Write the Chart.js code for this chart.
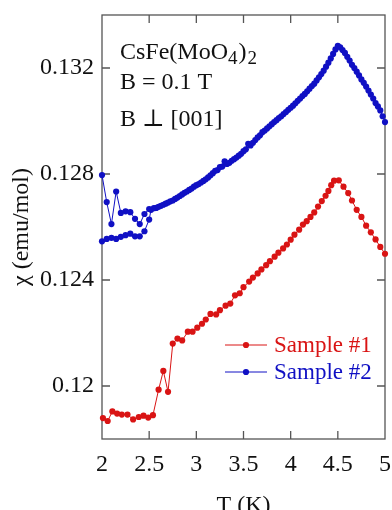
<!DOCTYPE html>
<html><head><meta charset="utf-8">
<script src="https://cdn.jsdelivr.net/npm/chart.js@4.4.0/dist/chart.umd.min.js"></script>
<style>html,body{margin:0;padding:0;background:#fff;}#wrap{width:392px;height:510px;position:relative;}</style>
</head><body><div id="wrap"><canvas id="c" width="392" height="510"></canvas></div>
<script>
const seriesLabels = ['Sample #1', 'Sample #2'];
const seriesColors = ['#d91414', '#1010c4'];

const sample1T = [2.01,2.06,2.11,2.16,2.21,2.27,2.33,2.39,2.44,2.49,2.54,2.60,2.65,2.70,2.75,2.80,2.85,2.91,2.96,3.01,3.06,3.10,3.15,3.21,3.25,3.31,3.36,3.41,3.46,3.50,3.56,3.60,3.65,3.69,3.74,3.78,3.83,3.87,3.92,3.96,4.00,4.04,4.09,4.13,4.17,4.21,4.25,4.29,4.33,4.37,4.40,4.43,4.46,4.51,4.56,4.61,4.65,4.70,4.75,4.80,4.85,4.90,4.95,5.00];
const sample1Chi = [0.11879,0.11868,0.11904,0.11896,0.11892,0.11892,0.11874,0.11883,0.11888,0.11881,0.11890,0.11986,0.12057,0.11978,0.12160,0.12179,0.12172,0.12205,0.12205,0.12220,0.12235,0.12251,0.12272,0.12270,0.12286,0.12303,0.12311,0.12342,0.12350,0.12373,0.12394,0.12409,0.12425,0.12440,0.12456,0.12471,0.12488,0.12503,0.12519,0.12534,0.12552,0.12571,0.12590,0.12609,0.12622,0.12638,0.12655,0.12677,0.12698,0.12718,0.12736,0.12758,0.12775,0.12776,0.12752,0.12728,0.12700,0.12665,0.12638,0.12605,0.12580,0.12553,0.12525,0.12499];

const sample2aT = [2.00,2.05,2.10,2.15,2.20,2.25,2.30,2.35,2.40,2.45,2.50,2.55,2.60,2.65,2.70,2.75,2.80,2.85,2.90,2.95,3.00,3.05,3.10,3.15,3.20,3.25,3.30,3.35,3.40,3.45,3.50,3.55,3.60,3.65,3.70,3.75,3.80,3.85,3.90,3.95,4.00,4.05,4.10,4.15,4.20,4.25,4.30,4.35,4.40,4.45,4.50,4.55,4.60,4.65,4.70,4.75,4.80,4.85,4.90,4.95,5.00];
const sample2aChi = [0.12796,0.12694,0.12611,0.12734,0.12653,0.12659,0.12656,0.12631,0.12611,0.12649,0.12668,0.12671,0.12676,0.12684,0.12692,0.12700,0.12711,0.12723,0.12734,0.12745,0.12758,0.12768,0.12780,0.12795,0.12812,0.12826,0.12848,0.12842,0.12856,0.12869,0.12886,0.12914,0.12918,0.12938,0.12958,0.12972,0.12988,0.13003,0.13018,0.13034,0.13050,0.13067,0.13085,0.13102,0.13122,0.13141,0.13165,0.13190,0.13220,0.13253,0.13284,0.13268,0.13242,0.13212,0.13186,0.13157,0.13130,0.13100,0.13068,0.13040,0.12996];

const sample2bT = [2.00,2.05,2.10,2.15,2.20,2.25,2.30,2.35,2.40,2.45,2.50,2.52,2.575,2.625,2.675,2.725,2.775,2.825,2.875,2.925,2.975,3.025,3.075,3.125,3.175,3.225,3.275,3.325,3.375,3.425,3.475,3.525,3.575,3.625,3.675,3.725,3.775,3.825,3.875,3.925,3.975,4.025,4.075,4.125,4.175,4.225,4.275,4.325,4.375,4.425,4.475,4.525,4.575,4.625,4.675,4.725,4.775,4.825,4.875,4.925,4.975];
const sample2bChi = [0.12546,0.12555,0.12559,0.12555,0.12563,0.12569,0.12575,0.12565,0.12565,0.12584,0.12628,0.12665,0.12672,0.12680,0.12688,0.12697,0.12706,0.12717,0.12729,0.12740,0.12752,0.12762,0.12774,0.12787,0.12803,0.12815,0.12828,0.12838,0.12850,0.12862,0.12876,0.12893,0.12908,0.12928,0.12946,0.12964,0.12980,0.12996,0.13011,0.13026,0.13042,0.13058,0.13076,0.13094,0.13112,0.13132,0.13153,0.13177,0.13205,0.13236,0.13270,0.13278,0.13257,0.13228,0.13200,0.13172,0.13144,0.13115,0.13085,0.13055,0.13018];

const xTicks = [2, 2.5, 3, 3.5, 4, 4.5, 5];
const xTickLabels = ['2', '2.5', '3', '3.5', '4', '4.5', '5'];
const yTicks = [0.12, 0.124, 0.128, 0.132];
const yTickLabels = ['0.12', '0.124', '0.128', '0.132'];
const xTitle = 'T (K)';
const yTitle = 'χ (emu/mol)';

const SERIF = '"Liberation Serif","DejaVu Serif","Times New Roman",serif';
const zip = (xs, ys) => xs.map((v, i) => ({x: v, y: ys[i]}));

function ds(label, xs, ys, color, inLegend) {
  return {
    label: label, data: zip(xs, ys), borderColor: color, backgroundColor: color,
    borderWidth: 1, pointRadius: 3.1, pointBorderWidth: 0, pointHoverRadius: 3.1,
    tension: 0, clip: false, inLegend: inLegend
  };
}

function noPad(s) { s.paddingTop = 0; s.paddingBottom = 0; s.paddingLeft = 0; s.paddingRight = 0; }

const framePlugin = {
  id: 'frame',
  beforeDatasetsDraw(chart) {
    const {ctx, chartArea: a, scales: {x, y}} = chart;
    ctx.save();
    ctx.strokeStyle = '#555'; ctx.lineWidth = 1.3;
    ctx.strokeRect(a.left, a.top, a.right - a.left, a.bottom - a.top);
    const L = 8;
    ctx.beginPath();
    x.ticks.forEach(t => {
      const p = x.getPixelForValue(t.value);
      if (p <= a.left + 1 || p >= a.right - 1) return;
      ctx.moveTo(p, a.bottom); ctx.lineTo(p, a.bottom - L);
      ctx.moveTo(p, a.top); ctx.lineTo(p, a.top + L);
    });
    y.ticks.forEach(t => {
      const p = y.getPixelForValue(t.value);
      ctx.moveTo(a.left, p); ctx.lineTo(a.left + L, p);
      ctx.moveTo(a.right, p); ctx.lineTo(a.right - L, p);
    });
    ctx.stroke();
    ctx.restore();
  }
};

const notePlugin = {
  id: 'note',
  afterDraw(chart) {
    const ctx = chart.ctx;
    ctx.save();
    ctx.fillStyle = '#111';
    ctx.textBaseline = 'alphabetic';
    ctx.textAlign = 'left';
    const big = '24px ' + SERIF, small = '19px ' + SERIF;
    let x0 = 120;
    ctx.font = big; ctx.fillText('CsFe(MoO', x0, 59); x0 += ctx.measureText('CsFe(MoO').width;
    ctx.font = small; ctx.fillText('4', x0, 64); x0 += ctx.measureText('4').width + 1;
    ctx.font = big; ctx.fillText(')', x0, 59); x0 += ctx.measureText(')').width + 1;
    ctx.font = small; ctx.fillText('2', x0, 64);
    ctx.font = big;
    ctx.fillText('B = 0.1 T', 120, 89);
    ctx.fillText('B \u22A5 [001]', 120, 126);

    // legend
    let ly = 345;
    chart.data.datasets.forEach(d => {
      if (!d.inLegend) return;
      ctx.strokeStyle = d.borderColor; ctx.lineWidth = 1;
      ctx.beginPath(); ctx.moveTo(225, ly); ctx.lineTo(267, ly); ctx.stroke();
      ctx.fillStyle = d.borderColor;
      ctx.beginPath(); ctx.arc(246, ly, 3.1, 0, Math.PI * 2); ctx.fill();
      ctx.font = '23px ' + SERIF; ctx.textBaseline = 'middle';
      ctx.fillText(d.label, 274, ly + 1);
      ly += 27;
    });
    ctx.restore();
  }
};

new Chart(document.getElementById('c'), {
  type: 'line',
  data: {
    datasets: [
      ds(seriesLabels[0], sample1T, sample1Chi, seriesColors[0], true),
      ds(seriesLabels[1], sample2aT, sample2aChi, seriesColors[1], true),
      ds(seriesLabels[1], sample2bT, sample2bChi, seriesColors[1], false)
    ]
  },
  options: {
    responsive: false, animation: false, devicePixelRatio: 1,
    layout: {padding: {top: 15, right: 7, left: 0, bottom: 0}},
    plugins: {legend: {display: false}, tooltip: {enabled: false}},
    scales: {
      x: {
        type: 'linear', min: 2, max: 5,
        afterBuildTicks: s => { s.ticks = xTicks.map(v => ({value: v})); },
        afterFit: s => { s.height = 71; noPad(s); },
        grid: {display: false, drawTicks: false},
        border: {display: false},
        ticks: {
          padding: 11, color: '#111', font: {family: SERIF, size: 24},
          maxRotation: 0, autoSkip: false,
          callback: v => xTickLabels[xTicks.indexOf(v)]
        },
        title: {display: true, text: xTitle, color: '#111', font: {family: SERIF, size: 24, lineHeight: 1}, padding: {top: 0, bottom: -8}}
      },
      y: {
        type: 'linear', min: 0.118, max: 0.134,
        afterBuildTicks: s => { s.ticks = yTicks.map(v => ({value: v})); },
        afterFit: s => { s.width = 102; noPad(s); },
        grid: {display: false, drawTicks: false},
        border: {display: false},
        ticks: {
          padding: 8, color: '#111', font: {family: SERIF, size: 24},
          autoSkip: false,
          callback: v => yTickLabels[yTicks.indexOf(v)]
        },
        title: {display: true, text: yTitle, color: '#111', font: {family: SERIF, size: 24, lineHeight: 1}, padding: {top: 10, bottom: 0}}
      }
    }
  },
  plugins: [framePlugin, notePlugin]
});
</script></body></html>
